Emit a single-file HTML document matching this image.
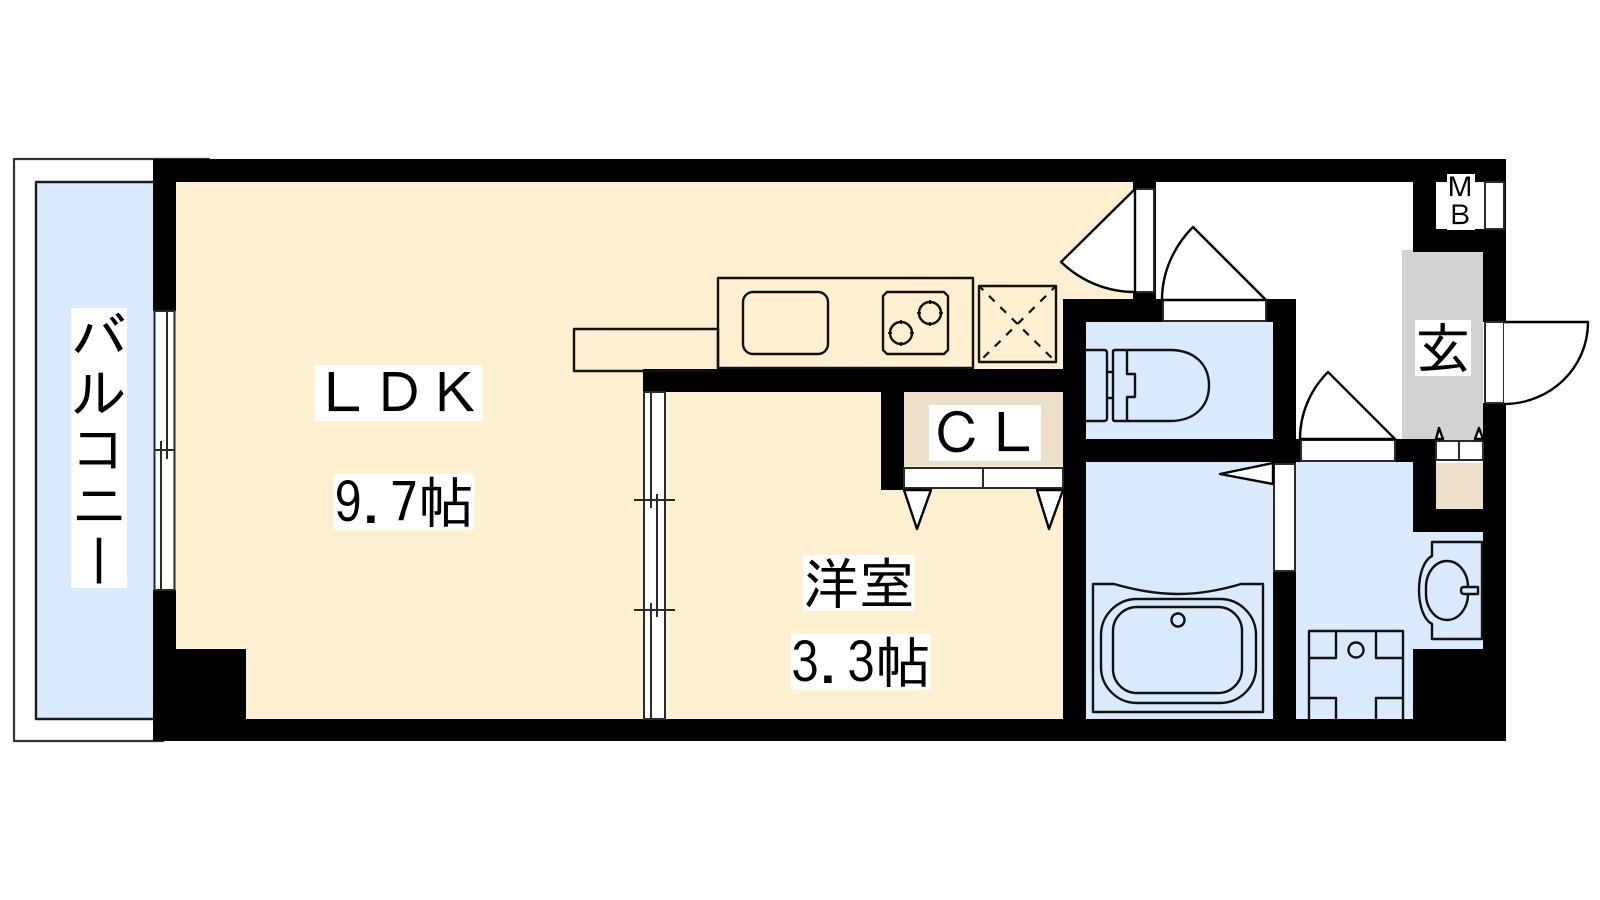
<!DOCTYPE html>
<html lang="ja"><head><meta charset="utf-8"><title>間取り図</title>
<style>
html,body{margin:0;padding:0;background:#fff;width:1600px;height:900px;overflow:hidden}
#p{position:relative;width:1600px;height:900px}
svg{position:absolute;left:0;top:0}
.t{position:absolute;background:#fff;color:#000;font-family:"IPAGothic","Noto Sans CJK JP",sans-serif;font-size:56px;line-height:56px;height:56px;white-space:nowrap}
.v{writing-mode:vertical-rl;height:auto;width:56px;text-orientation:mixed}
.s{position:relative;left:-1px;top:-2px;display:block}
</style></head><body><div id="p">
<svg width="1600" height="900" viewBox="0 0 1600 900" fill="none" stroke-linejoin="round">
<!-- balcony -->
<path d="M210 159H14V741H164" stroke="#333" stroke-width="2.200" fill="#fff"/>
<rect x="36" y="182" width="120" height="537" fill="#DAEBFF" stroke="#1a1a1a" stroke-width="2.400"/>
<!-- floors -->
<rect x="170" y="170" width="970" height="560" fill="#FEF0D0"/>
<rect x="1080" y="315" width="200" height="130" fill="#DAEBFF"/>
<rect x="1080" y="455" width="200" height="270" fill="#DAEBFF"/>
<rect x="1290" y="455" width="123" height="270" fill="#DAEBFF"/>
<rect x="1413" y="532" width="70" height="117" fill="#DAEBFF"/>
<rect x="1402" y="250" width="81" height="190" fill="#D2D2D2"/>
<rect x="904" y="392" width="159" height="74" fill="#EEDFC8"/>
<rect x="1436" y="463" width="47" height="46" fill="#EEDFC8"/>
<!-- walls -->
<g fill="#000">
<rect x="153" y="159" width="1353" height="23"/>
<rect x="153" y="719" width="1353" height="22"/>
<rect x="153" y="159" width="23" height="152"/>
<rect x="153" y="590" width="23" height="151"/>
<rect x="153" y="649" width="93" height="92"/>
<rect x="1483" y="159" width="23" height="163"/>
<rect x="1483" y="403" width="23" height="338"/>
<rect x="643" y="369" width="443" height="23"/>
<rect x="881" y="392" width="23" height="98"/>
<rect x="1133" y="182" width="23" height="117"/>
<rect x="1063" y="299" width="233" height="23"/>
<rect x="1063" y="299" width="23" height="440"/>
<rect x="1273" y="299" width="23" height="163"/>
<rect x="1063" y="439" width="373" height="23"/>
<rect x="1273" y="462" width="23" height="257"/>
<rect x="1413" y="182" width="23" height="70"/>
<rect x="1413" y="229" width="93" height="23"/>
<rect x="1413" y="439" width="23" height="93"/>
<rect x="1413" y="509" width="93" height="23"/>
<rect x="1413" y="649" width="93" height="92"/>
</g>
<rect x="1436" y="182" width="48" height="47" fill="#fff"/>
<g stroke="#2a2a2a" stroke-width="2" fill="#fff">
<!-- balcony window -->
<rect x="154.500" y="311" width="20" height="279"/>
<path d="M154 450H175M167 311V459M161 441V590" fill="none"/>
<!-- door frames -->
<rect x="1135" y="189" width="19" height="103"/>
<rect x="1163" y="300" width="103" height="21"/>
<rect x="1301" y="440" width="94" height="21"/>
<rect x="1274" y="464" width="21" height="107"/>
<rect x="1485" y="182" width="19" height="47"/>
<rect x="1485" y="322" width="19" height="81"/>
<rect x="904" y="468" width="159" height="20"/>
<path d="M983 468V488" fill="none"/>
<rect x="1436" y="441" width="47" height="19"/>
<path d="M1459 441V460" fill="none"/>
<!-- sliding door -->
<rect x="644" y="392" width="21" height="327"/>
<path d="M651 392V508M657 494V617M651 603V719M634 500H675M634 610H675" fill="none"/>
</g>
<g stroke="#000" stroke-width="2.400" fill="#fff">
<!-- door leaves -->
<path d="M1135 189L1061 262C1082 282 1108 292 1135 292Z"/>
<path d="M1266 300L1193 227C1174 246 1162 272 1162 300Z"/>
<path d="M1395 439L1328 372C1310 390 1300 414 1300 439Z"/>
<path d="M1273 463L1220 474L1273 484Z"/>
<path d="M1504 322H1588C1588 368 1550 404 1504 404"/>
<path d="M904 490H931L917 529Z"/>
<path d="M1037 490L1049 529L1063 490Z"/>
<path d="M1436 439L1439 428L1443 439Z"/>
<path d="M1475 439L1479 428L1483 439Z"/>
</g>
<g stroke="#111" stroke-width="2.400">
<!-- kitchen -->
<rect x="574" y="329" width="144" height="42"/>
<rect x="718" y="278" width="255" height="90"/>
<rect x="743" y="292" width="85" height="62" rx="10"/>
<path d="M887 292H944L948 296V350L944 354H887L883 350V296Z"/>
<circle cx="930" cy="313" r="11"/>
<circle cx="901" cy="333" r="11"/>
<path d="M930 300V304M930 322V326M917 313H921M939 313H943M901 320V324M901 342V346M888 333H892M910 333H914" stroke-width="1.800"/>
<rect x="979" y="286" width="77" height="76"/>
<path d="M979 286L1056 362M1056 286L979 362" stroke-dasharray="8 8" stroke-dashoffset="2" stroke-width="2.200"/>
<!-- toilet -->
<path d="M1086 350H1104Q1107 350 1107 353V418Q1107 421 1104 421H1086"/>
<path d="M1115 350H1170C1195 350 1209 365 1209 385.500C1209 406 1195 421 1170 421H1115Q1113 421 1113 419V352Q1113 350 1115 350Z"/>
<path d="M1127 350V374H1135V397H1127V421M1107 372H1113M1107 398H1113"/>
<!-- bath -->
<path d="M1093 584H1114C1135 590 1155 594 1178 594C1201 594 1221 590 1241 584H1263V712H1093Z"/>
<rect x="1101" y="599" width="155" height="104" rx="36"/>
<rect x="1113" y="607" width="129" height="86" rx="24"/>
<circle cx="1178" cy="620" r="6.500"/>
<!-- basin -->
<path d="M1482 542H1432V556C1424 560 1419 574 1419 590C1419 606 1424 620 1432 624V639H1482Z"/>
<rect x="1426" y="561" width="42" height="59" rx="21" ry="26"/>
<path d="M1468 587H1478V594H1464Q1461 594 1461 590.500Q1461 587 1464 587Z" fill="#DAEBFF"/>
<!-- washer pan -->
<path d="M1309 719V631H1403V719M1336 631V658H1309M1376 631V658H1403M1309 698H1336V719M1403 698H1376V719"/>
<circle cx="1356" cy="650" r="7.500"/>
</g>
</svg>
<span class="t" style="left:315px;top:365px">ＬＤＫ</span>
<span class="t" style="left:334px;top:474px">9.7帖</span>
<span class="t" style="left:803px;top:555px">洋室</span>
<span class="t" style="left:791px;top:634px">3.3帖</span>
<span class="t" style="left:929px;top:405px">ＣＬ</span>
<span class="t" style="left:1415px;top:320px">玄</span>
<span class="t v" style="left:71px;top:308px">バルコニー</span>
<span class="t v" style="left:1447px;top:174px;width:28px;font-size:28px;line-height:28px"><span class="s">ＭＢ</span></span>
</div></body></html>
